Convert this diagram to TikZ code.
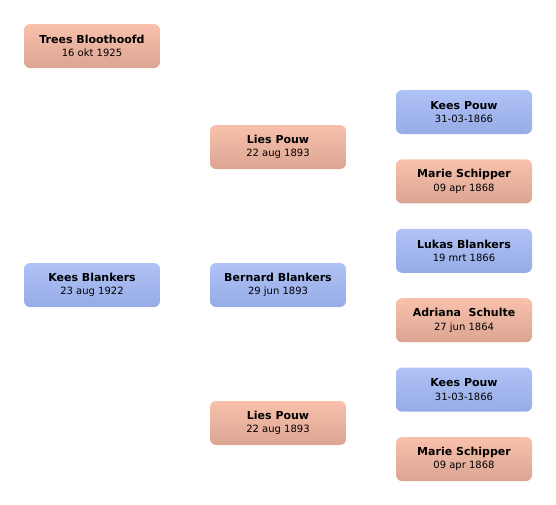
\documentclass[tikz,border=0pt]{standalone}
\usepackage{fontspec}
\setmainfont{DejaVu Sans}
\usepackage{xcolor}
\usetikzlibrary{positioning}
\definecolor{femtop}{HTML}{F9C1AC}
\definecolor{fembot}{HTML}{DBA592}
\definecolor{mantop}{HTML}{AFC3F7}
\definecolor{manbot}{HTML}{97ABE6}
\newcommand{\born}[1]{{\fontsize{10}{11}\selectfont #1}}

\begin{document}
\begin{tikzpicture}[
    x=1pt, y=-1pt,
    node distance=25pt,
    person/.style={rounded corners=6pt, minimum width=136pt, minimum height=44pt, inner sep=0pt, align=center, font=\fontsize{11}{13.5}\selectfont},
    female/.style={person, top color=femtop, bottom color=fembot},
    male/.style={person, top color=mantop, bottom color=manbot}
]
\useasboundingbox (0,0) rectangle (556,504);
% generation 1
\node (trees) [female] at (92,46) {\textbf{Trees Bloothoofd}\\\born{16 okt 1925}};
\node (kees) [male] at (92,285) {\textbf{Kees Blankers}\\\born{23 aug 1922}};
% generation 2
\node (lies1) [female] at (278,147) {\textbf{Lies Pouw}\\\born{22 aug 1893}};
\node (bernard) [male] at (278,285) {\textbf{Bernard Blankers}\\\born{29 jun 1893}};
\node (lies2) [female] at (278,423) {\textbf{Lies Pouw}\\\born{22 aug 1893}};
% generation 3
\node (keespouw1) [male] at (464,112) {\textbf{Kees Pouw}\\\born{31-03-1866}};
\node (marie1) [female, below=of keespouw1] {\textbf{Marie Schipper}\\\born{09 apr 1868}};
\node (lukas) [male, below=of marie1] {\textbf{Lukas Blankers}\\\born{19 mrt 1866}};
\node (adriana) [female, below=of lukas] {\textbf{Adriana\ \ Schulte}\\\born{27 jun 1864}};
\node (keespouw2) [male, below=of adriana] {\textbf{Kees Pouw}\\\born{31-03-1866}};
\node (marie2) [female, below=of keespouw2] {\textbf{Marie Schipper}\\\born{09 apr 1868}};
\end{tikzpicture}
\end{document}
